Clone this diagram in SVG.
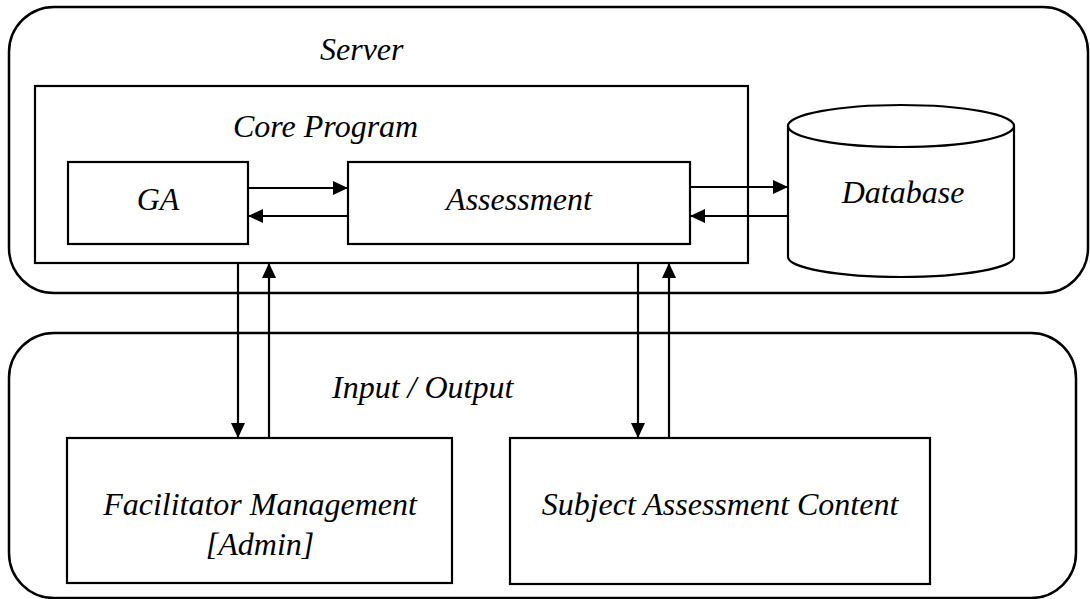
<svg xmlns="http://www.w3.org/2000/svg" width="1090" height="599" viewBox="0 0 1090 599">
<style>
.c{fill:none;stroke:#000;stroke-width:2.5}
.b{fill:#fff;stroke:#000;stroke-width:2.2}
.t{font-family:"Liberation Serif","Times New Roman",serif;font-style:italic;font-size:32px;fill:#000}
.m{text-anchor:middle}
.a{fill:none;stroke:#000;stroke-width:2.2;marker-end:url(#ah)}
</style>
<defs>
<marker id="ah" markerUnits="userSpaceOnUse" markerWidth="16" markerHeight="14" refX="15" refY="7" orient="auto">
<path d="M0,0 L15,7 L0,14 Z" fill="#000"/>
</marker>
</defs>
<g id="server">
<rect class="c" x="9" y="7" width="1079" height="286" rx="45" ry="45"/>
<text class="t" x="320" y="60">Server</text>
</g>
<g id="io">
<rect class="c" x="9" y="333" width="1067" height="265" rx="45" ry="45"/>
<text class="t" x="332" y="398">Input / Output</text>
</g>
<g id="core">
<rect class="b" x="35" y="86" width="713" height="177"/>
<text class="t" x="233" y="137">Core Program</text>
</g>
<g id="ga">
<rect class="b" x="68" y="162" width="180" height="82"/>
<text class="t m" x="158" y="210">GA</text>
</g>
<g id="assessment">
<rect class="b" x="348" y="162" width="342" height="82"/>
<text class="t m" x="519" y="210">Assessment</text>
</g>
<g id="database">
<path class="b" d="M788,126 A113,21 0 0 1 1014,126 L1014,257 A113,20 0 0 1 788,257 Z"/>
<path class="b" fill="none" d="M788,126 A113,21 0 0 0 1014,126"/>
<text class="t m" x="903" y="203">Database</text>
</g>
<g id="facilitator">
<rect class="b" x="67" y="438" width="385" height="145"/>
<text class="t m" x="260" y="515">Facilitator Management</text>
<text class="t m" x="260" y="555">[Admin]</text>
</g>
<g id="subject">
<rect class="b" x="510" y="438" width="420" height="146"/>
<text class="t m" x="720" y="515">Subject Assessment Content</text>
</g>
<g id="connectors">
<line class="a" x1="248" y1="188" x2="348" y2="188"/>
<line class="a" x1="348" y1="216" x2="248" y2="216"/>
<line class="a" x1="690" y1="187" x2="788" y2="187"/>
<line class="a" x1="788" y1="216" x2="690" y2="216"/>
<line class="a" x1="238" y1="263" x2="238" y2="438"/>
<line class="a" x1="269" y1="438" x2="269" y2="263"/>
<line class="a" x1="638" y1="263" x2="638" y2="438"/>
<line class="a" x1="669" y1="438" x2="669" y2="263"/>
</g>
</svg>
